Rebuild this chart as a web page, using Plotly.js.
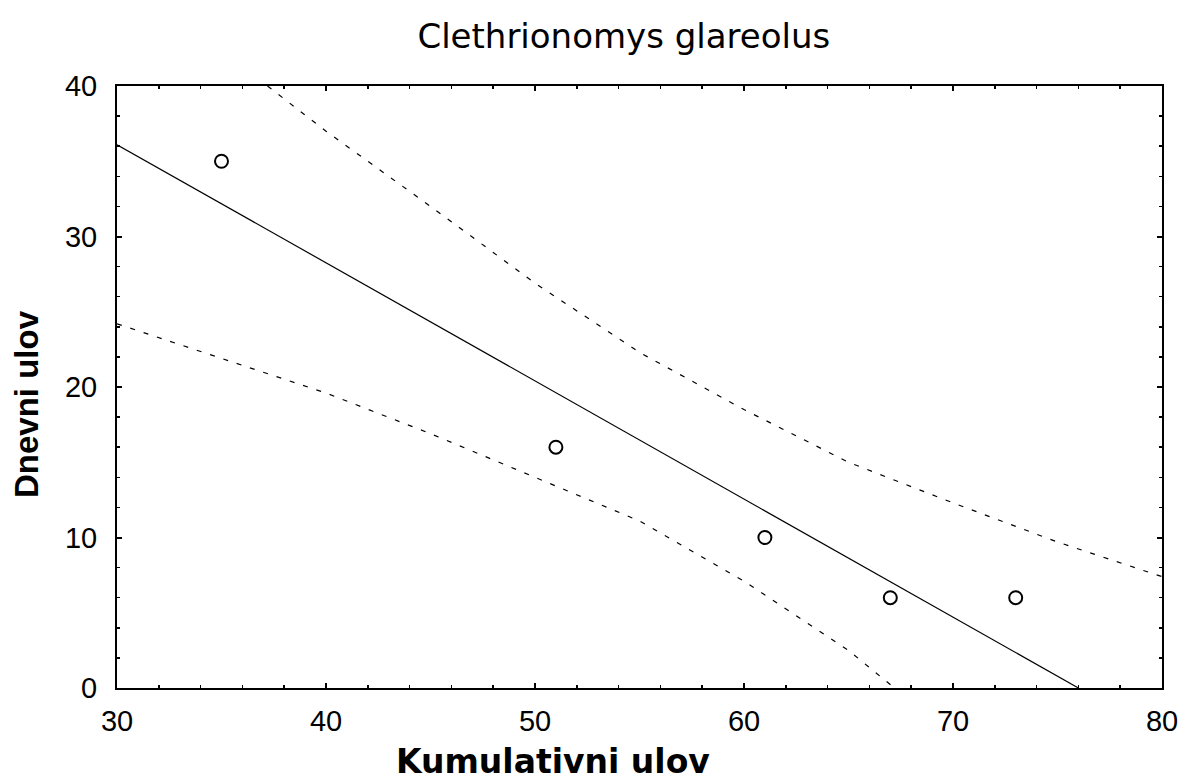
<!DOCTYPE html>
<html>
<head>
<meta charset="utf-8">
<script src="https://cdn.plot.ly/plotly-3.0.1.min.js"></script>
<style>html,body{margin:0;padding:0;background:#fff;}#chart{width:1182px;height:782px;}</style>
</head>
<body>
<div id="chart"></div>
<script>
// Observed points
const pointX = [35, 51, 61, 67, 73];
const pointY = [35, 16, 10, 6, 6];

// Regression line endpoints
const fitX = [30, 76];
const fitY = [36.1, 0];

// Upper confidence band
const upperX = [37.2, 40, 45, 50, 55, 60, 65, 70, 75, 80];
const upperY = [40, 37.0, 32.0, 26.9, 22.3, 18.5, 15.0, 12.3, 9.7, 7.4];

// Lower confidence band
const lowerX = [30, 35, 40, 45, 50, 55, 60, 65, 67.2];
const lowerY = [24.2, 21.9, 19.6, 16.9, 14.0, 11.1, 7.1, 2.5, 0];

const titleText = 'Clethrionomys glareolus';
const xTitle = 'Kumulativni ulov';
const yTitle = 'Dnevni ulov';
const xTicks = [30, 40, 50, 60, 70, 80];
const yTicks = [0, 10, 20, 30, 40];

const FONT = 'Liberation Sans, Arial, sans-serif';
const WIDE = 'DejaVu Sans, sans-serif';

const traces = [
  {x: lowerX, y: lowerY, mode: 'lines', line: {color: '#000', width: 1.2, dash: '5px,9px'}, hoverinfo: 'skip'},
  {x: upperX, y: upperY, mode: 'lines', line: {color: '#000', width: 1.2, dash: '5px,9px'}, hoverinfo: 'skip'},
  {x: fitX, y: fitY, mode: 'lines', line: {color: '#000', width: 1.2}, hoverinfo: 'skip'},
  {x: pointX, y: pointY, mode: 'markers', marker: {symbol: 'circle-open', size: 13, color: '#000', line: {width: 2, color: '#000'}}}
];

const axisCommon = {
  showgrid: false, zeroline: false,
  showline: true, linecolor: '#000', linewidth: 2, mirror: 'ticks',
  ticks: 'inside', ticklen: 5, tickwidth: 2, tickcolor: '#000',
  tickfont: {family: FONT, size: 29, color: '#000'},
  minor: {dtick: 2, ticks: 'inside', ticklen: 3, tickwidth: 1.5, tickcolor: '#000'}
};

const layout = {
  width: 1182, height: 782,
  paper_bgcolor: '#fff', plot_bgcolor: '#fff',
  showlegend: false,
  margin: {l: 117, r: 20, t: 86, b: 94},
  title: {text: titleText, font: {family: WIDE, size: 34, color: '#000'}, x: 0.485, xref: 'paper', xanchor: 'center', y: 0.954, yanchor: 'middle'},
  xaxis: Object.assign({}, axisCommon, {
    range: [30, 80], tickvals: xTicks, ticktext: xTicks.map(String), ticklabelstandoff: 6
  }),
  yaxis: Object.assign({}, axisCommon, {
    range: [0, 40], tickvals: yTicks, ticktext: yTicks.map(String), ticklabelstandoff: 12
  }),
  annotations: [
    {text: xTitle, xref: 'paper', yref: 'paper', x: 0.417, y: -0.122, xanchor: 'center', yanchor: 'middle', showarrow: false,
     font: {family: WIDE, size: 33, color: '#000', weight: 'bold'}},
    {text: yTitle, xref: 'paper', yref: 'paper', x: -0.086, y: 0.472, xanchor: 'center', yanchor: 'middle', showarrow: false, textangle: -90,
     font: {family: FONT, size: 33, color: '#000', weight: 'bold'}}
  ]
};

Plotly.newPlot('chart', traces, layout, {displayModeBar: false, staticPlot: true});
</script>
</body>
</html>
